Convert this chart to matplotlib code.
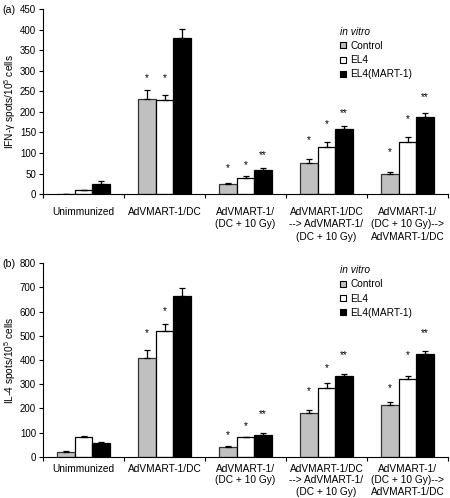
import numpy as np
import matplotlib
matplotlib.use("Agg")
import matplotlib.pyplot as plt
from matplotlib.lines import Line2D

plt.rcParams['font.family'] = ['Liberation Sans', 'DejaVu Sans']
plt.rcParams['mathtext.fontset'] = 'custom'
plt.rcParams['mathtext.rm'] = 'Liberation Sans'
plt.rcParams['mathtext.it'] = 'Liberation Sans:italic'

categories = ["Unimmunized", "AdVMART-1/DC", "AdVMART-1/\n(DC + 10 Gy)",
              "AdVMART-1/DC\n--> AdVMART-1/\n(DC + 10 Gy)",
              "AdVMART-1/\n(DC + 10 Gy)-->\nAdVMART-1/DC"]
series = ["Control", "EL4", "EL4(MART-1)"]

# Panel (a) IFN-gamma
a_control = [1, 231, 24, 75, 49]
a_control_err = [0, 23, 4, 10, 6]
a_el4 = [9, 228, 39, 115, 127]
a_el4_err = [2, 12, 6, 13, 13]
a_mart = [24, 380, 58, 158, 188]
a_mart_err = [9, 22, 6, 7, 10]
a_control_star = ['', '*', '*', '*', '*']
a_control_star_y = [np.nan, 281, 64, 132, 103]
a_el4_star = ['', '*', '*', '*', '*']
a_el4_star_y = [np.nan, 281, 70, 170, 182]
a_mart_star = ['', '', '**', '**', '**']
a_mart_star_y = [np.nan, np.nan, 95, 198, 236]

# Panel (b) IL-4
b_control = [21, 410, 40, 182, 214]
b_control_err = [4, 31, 3, 11, 11]
b_el4 = [83, 519, 80, 286, 320]
b_el4_err = [4, 29, 3, 18, 12]
b_mart = [58, 666, 92, 332, 423]
b_mart_err = [2, 33, 7, 11, 14]
b_control_star = ['', '*', '*', '*', '*']
b_control_star_y = [np.nan, 513, 90, 272, 286]
b_el4_star = ['', '*', '*', '*', '*']
b_el4_star_y = [np.nan, 604, 127, 368, 421]
b_mart_star = ['', '', '**', '**', '**']
b_mart_star_y = [np.nan, np.nan, 178, 419, 510]

colors = ['#c0c0c0', 'white', 'black']
edges = ['#333333', 'black', 'black']
FS = 7.3

fig = plt.figure(figsize=(4.5, 4.98), dpi=100)
ax_a = fig.add_axes([43/450, 1-194.2/498, 405/450, (194.2-9)/498])
ax_b = fig.add_axes([43/450, 1-456.8/498, 405/450, (456.8-263.3)/498])


def draw(ax, vals, errs, stars, stary, ymax, ystep, ylabel, letter, leg_y,
         xpad, lsp):
    x = np.arange(len(categories)) + 0.5
    w = 0.218
    offs = [-w, 0, w]
    for k in range(3):
        ax.bar(x + offs[k], vals[k], w, color=colors[k], edgecolor=edges[k],
               linewidth=0.9, zorder=2)
        ax.errorbar(x + offs[k], vals[k],
                    yerr=[np.zeros(len(x)), errs[k]], fmt='none',
                    ecolor='black', elinewidth=0.9, capsize=2.2,
                    capthick=0.9, zorder=3)
        for i in range(len(x)):
            if stars[k][i]:
                ax.text(x[i] + offs[k], stary[k][i], stars[k][i],
                        ha='center', va='center', fontsize=FS, zorder=4)
    ax.set_xlim(0, len(categories))
    ax.set_ylim(0, ymax)
    ax.set_yticks(np.arange(0, ymax + 1, ystep))
    ax.set_xticks(np.arange(0, len(categories) + 1))
    ax.set_xticklabels([])
    ax.set_xticks(x, minor=True)
    ax.set_xticklabels(categories, minor=True, fontsize=FS, linespacing=lsp)
    ax.tick_params(axis='x', which='minor', length=0, pad=xpad)
    ax.tick_params(axis='x', which='major', length=3, width=0.8, direction='out')
    ax.tick_params(axis='y', length=3, width=0.8, labelsize=7.0, pad=2)
    for s in ['top', 'right']:
        ax.spines[s].set_visible(False)
    ax.spines['left'].set_linewidth(0.8)
    ax.spines['bottom'].set_linewidth(0.8)
    ax.set_ylabel(ylabel, fontsize=FS)
    ax.yaxis.set_label_coords(-0.062, 0.5)
    handles = [Line2D([], [], marker='s', linestyle='none', markersize=4,
                      markerfacecolor=colors[k], markeredgecolor='black',
                      markeredgewidth=0.8) for k in range(3)]
    leg = ax.legend(handles, series, title='in vitro', loc='upper left',
                    bbox_to_anchor=(0.733, leg_y), frameon=False,
                    fontsize=FS, title_fontsize=FS, handlelength=0.6,
                    handletextpad=0.4, labelspacing=0.42, borderaxespad=0,
                    borderpad=0, alignment='left')
    leg.get_title().set_fontstyle('italic')
    fig.text(2/450, ax.get_position().y1 - 1/498, letter, fontsize=FS + 0.4,
             ha='left', va='center')


draw(ax_a, [a_control, a_el4, a_mart], [a_control_err, a_el4_err, a_mart_err],
     [a_control_star, a_el4_star, a_mart_star],
     [a_control_star_y, a_el4_star_y, a_mart_star_y],
     450, 50, 'IFN-γ spots/10$^5$ cells', '(a)', 0.905, 9.0, 1.33)
draw(ax_b, [b_control, b_el4, b_mart], [b_control_err, b_el4_err, b_mart_err],
     [b_control_star, b_el4_star, b_mart_star],
     [b_control_star_y, b_el4_star_y, b_mart_star_y],
     800, 100, 'IL-4 spots/10$^5$ cells', '(b)', 0.99, 5.0, 1.2)

fig.savefig('out.png', dpi=100)
